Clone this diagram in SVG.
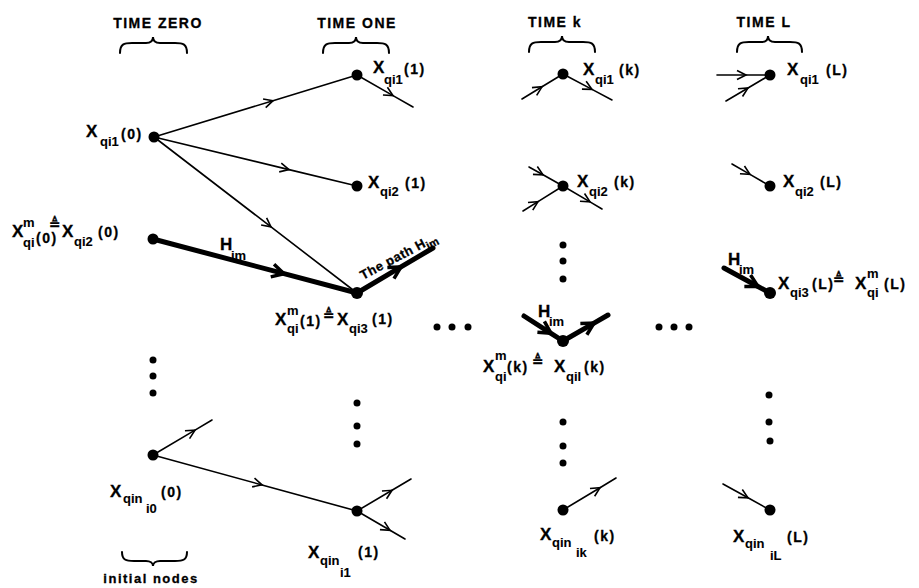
<svg xmlns="http://www.w3.org/2000/svg" width="919" height="588" viewBox="0 0 919 588">
<style>
.t{font-family:"Liberation Sans",Arial,sans-serif;font-weight:bold;fill:#000;stroke:#000;stroke-width:0.3}
.h{font-size:14px;letter-spacing:1.5px}
.X{font-size:17px}
.s{font-size:13px;stroke-width:0.1}
.p{font-size:14px;letter-spacing:1.5px}
.eq{font-family:"DejaVu Sans",sans-serif;font-size:14px;font-weight:bold;letter-spacing:0}
.thin{fill:none;stroke:#000;stroke-width:1.6;stroke-linecap:round;marker-mid:url(#a)}
.thick{fill:none;stroke:#000;stroke-width:5;stroke-linecap:round;marker-mid:url(#b)}
.br{fill:none;stroke:#000;stroke-width:2;stroke-linecap:round}
.n{fill:#000}
</style>
<defs>
<marker id="a" markerUnits="userSpaceOnUse" markerWidth="20" markerHeight="20" refX="0" refY="0" orient="auto" overflow="visible"><path d="M-9,-4.5 L0,0 L-9,4.5" fill="none" stroke="#000" stroke-width="1.6"/></marker>
<marker id="b" markerUnits="userSpaceOnUse" markerWidth="30" markerHeight="30" refX="0" refY="0" orient="auto" overflow="visible"><path d="M-12,-6.5 L0,0 L-12,6.5" fill="none" stroke="#000" stroke-width="3.5"/></marker>
</defs>
<rect width="919" height="588" fill="#fff"/>

<g id="headers">
<text class="t h" x="158" y="28" text-anchor="middle">TIME ZERO</text>
<text class="t h" x="357" y="28" text-anchor="middle">TIME ONE</text>
<text class="t h" x="555" y="27" text-anchor="middle">TIME k</text>
<text class="t h" x="764" y="27" text-anchor="middle">TIME L</text>
<path class="br" d="M120,53 C120,44 124,43 132,43 L146,43 C150,43 153,41 153,37 C153,41 156,43 160,43 L175,43 C183,43 187,44 187,53"/>
<path class="br" d="M323,53 C323,44 327,43 335,43 L349,43 C353,43 356,41 356,37 C356,41 359,43 363,43 L377,43 C385,43 389,44 389,53"/>
<path class="br" d="M529,52 C529,43 533,42 541,42 L555,42 C559,42 562,40 562,36 C562,40 565,42 569,42 L583,42 C591,42 595,43 595,52"/>
<path class="br" d="M737,52 C737,43 741,42 749,42 L762,42 C766,42 768,40 768,36 C768,40 771,42 775,42 L790,42 C798,42 802,43 802,52"/>
<path class="br" d="M122,552 C122,560 126,561 134,561 L146,561 C150,561 153,563 153,566 C153,563 156,561 160,561 L175,561 C183,561 187,560 187,552"/>
<text class="t" x="151" y="583" text-anchor="middle" font-size="13" letter-spacing="1.5">initial nodes</text>
</g>

<g id="connectors">
<polyline class="thin" points="154,137 273,100.7 357,75"/>
<polyline class="thin" points="154,137 289,169.6 357,186"/>
<polyline class="thin" points="154,137 271,226.9 357,293"/>
<polyline class="thick" points="153,239 284,273.7 357,293"/>
<polyline class="thick" points="357,293 401,266.9 433,248"/>
<polyline class="thin" points="357,75 393,95.6 413,107"/>
<polyline class="thin" points="522,99 542,86.8 563,74"/>
<polyline class="thin" points="563,74 592,89.4 612,100"/>
<polyline class="thin" points="717,75 746,75 770,75"/>
<polyline class="thin" points="726,101 748,88 770,75"/>
<polyline class="thin" points="529,167 543,174.8 563,186"/>
<polyline class="thin" points="523,211 538,201.6 563,186"/>
<polyline class="thin" points="563,186 590,201.9 602,209"/>
<polyline class="thin" points="732,164 750,174.4 770,186"/>
<polyline class="thick" points="724,268 758,286.5 770,293"/>
<polyline class="thick" points="524,316 551,333.3 563,341"/>
<polyline class="thick" points="563,341 594,323.1 608,315"/>
<polyline class="thin" points="153,455 195,430.1 212,420"/>
<polyline class="thin" points="153,455 262,484.9 357,511"/>
<polyline class="thin" points="357,511 392,490.3 411,479"/>
<polyline class="thin" points="357,511 390,530.3 405,539"/>
<polyline class="thin" points="563,510 600,487.7 616,478"/>
<polyline class="thin" points="723,484 748,497.8 770,510"/>
</g>

<g id="n_qi1_0">
<circle class="n" cx="154" cy="137" r="5.5"/>
<text class="t"><tspan class="X" x="86" y="137">X</tspan><tspan class="s" x="100" y="146">qi1</tspan><tspan class="p" x="121" y="139">(0)</tspan></text>
</g>
<g id="n_qi2_0">
<circle class="n" cx="153" cy="239" r="5.5"/>
<text class="t"><tspan class="X" x="12" y="237">X</tspan><tspan class="s" x="23" y="227">m</tspan><tspan class="s" x="23" y="247">qi</tspan><tspan class="p" x="36" y="243" font-size="12" letter-spacing="0">(0)</tspan><tspan class="eq" x="49" y="229">≜</tspan><tspan class="X" x="62" y="237">X</tspan><tspan class="s" x="74" y="246">qi2</tspan><tspan class="p" x="98" y="237">(0)</tspan></text>
</g>
<g id="n_qi1_1">
<circle class="n" cx="357" cy="75" r="5.5"/>
<text class="t"><tspan class="X" x="373" y="73">X</tspan><tspan class="s" x="384" y="84">qi1</tspan><tspan class="p" x="404" y="74">(1)</tspan></text>
</g>
<g id="n_qi2_1">
<circle class="n" cx="357" cy="186" r="5.5"/>
<text class="t"><tspan class="X" x="368" y="188">X</tspan><tspan class="s" x="380" y="196">qi2</tspan><tspan class="p" x="405" y="188">(1)</tspan></text>
</g>
<g id="n_qi3_1">
<circle class="n" cx="357" cy="293" r="6"/>
<text class="t"><tspan class="X" x="275" y="325">X</tspan><tspan class="s" x="287" y="315">m</tspan><tspan class="s" x="287" y="333">qi</tspan><tspan class="p" x="300" y="326" letter-spacing="0.5">(1)</tspan><tspan class="eq" x="323" y="320">≜</tspan><tspan class="X" x="337" y="325">X</tspan><tspan class="s" x="349" y="333">qi3</tspan><tspan class="p" x="372" y="324">(1)</tspan></text>
<text class="t"><tspan class="X" font-size="16" x="220" y="250">H</tspan><tspan class="s" x="231" y="260">im</tspan></text>
<text class="t" transform="translate(363,280) rotate(-28)"><tspan font-size="13" letter-spacing="0.5">The path H</tspan><tspan font-size="11" dy="4">im</tspan></text>
</g>
<g id="n_qi1_k">
<circle class="n" cx="563" cy="74" r="5.5"/>
<text class="t"><tspan class="X" x="583" y="75">X</tspan><tspan class="s" x="595" y="84">qi1</tspan><tspan class="p" x="619" y="75">(k)</tspan></text>
</g>
<g id="n_qi2_k">
<circle class="n" cx="563" cy="186" r="5.5"/>
<text class="t"><tspan class="X" x="577" y="187">X</tspan><tspan class="s" x="589" y="196">qi2</tspan><tspan class="p" x="614" y="187">(k)</tspan></text>
</g>
<g id="n_qil_k">
<circle class="n" cx="563" cy="341" r="6"/>
<text class="t"><tspan class="X" font-size="16" x="538" y="317">H</tspan><tspan class="s" x="549" y="326">im</tspan></text>
<text class="t"><tspan class="X" x="483" y="372">X</tspan><tspan class="s" x="495" y="360">m</tspan><tspan class="s" x="495" y="381">qi</tspan><tspan class="p" x="507" y="372" letter-spacing="0.5">(k)</tspan><tspan class="eq" x="532" y="366">≜</tspan><tspan class="X" x="554" y="372">X</tspan><tspan class="s" x="566" y="381">qil</tspan><tspan class="p" x="584" y="372">(k)</tspan></text>
</g>
<g id="n_qi1_L">
<circle class="n" cx="770" cy="75" r="5.5"/>
<text class="t"><tspan class="X" x="787" y="75">X</tspan><tspan class="s" x="800" y="84">qi1</tspan><tspan class="p" x="826" y="75">(L)</tspan></text>
</g>
<g id="n_qi2_L">
<circle class="n" cx="770" cy="186" r="5.5"/>
<text class="t"><tspan class="X" x="783" y="187">X</tspan><tspan class="s" x="795" y="196">qi2</tspan><tspan class="p" x="820" y="187">(L)</tspan></text>
</g>
<g id="n_qi3_L">
<circle class="n" cx="770" cy="293" r="6"/>
<text class="t"><tspan class="X" font-size="16" x="728" y="265">H</tspan><tspan class="s" x="739" y="274">im</tspan></text>
<text class="t"><tspan class="X" x="778" y="289">X</tspan><tspan class="s" x="790" y="297">qi3</tspan><tspan class="p" x="812" y="289" letter-spacing="0">(L)</tspan><tspan class="eq" x="833" y="284">≜</tspan><tspan class="X" x="855" y="289">X</tspan><tspan class="s" x="867" y="278">m</tspan><tspan class="s" x="867" y="297">qi</tspan><tspan class="p" x="884" y="289" letter-spacing="3">(L)</tspan></text>
</g>
<g id="n_qin_0">
<circle class="n" cx="153" cy="455" r="5.5"/>
<text class="t"><tspan class="X" x="110" y="497">X</tspan><tspan class="s" x="123" y="503">qin</tspan><tspan class="s" x="146" y="513">i0</tspan><tspan class="p" x="161" y="497">(0)</tspan></text>
</g>
<g id="n_qin_1">
<circle class="n" cx="357" cy="511" r="5.5"/>
<text class="t"><tspan class="X" x="308" y="558">X</tspan><tspan class="s" x="320" y="565">qin</tspan><tspan class="s" x="340" y="577">i1</tspan><tspan class="p" x="358" y="557">(1)</tspan></text>
</g>
<g id="n_qin_k">
<circle class="n" cx="563" cy="510" r="5.5"/>
<text class="t"><tspan class="X" x="540" y="540">X</tspan><tspan class="s" x="552" y="547">qin</tspan><tspan class="s" x="576" y="557">ik</tspan><tspan class="p" x="594" y="541">(k)</tspan></text>
</g>
<g id="n_qin_L">
<circle class="n" cx="770" cy="510" r="5.5"/>
<text class="t"><tspan class="X" x="733" y="542">X</tspan><tspan class="s" x="745" y="548">qin</tspan><tspan class="s" x="770" y="560">iL</tspan><tspan class="p" x="787" y="542">(L)</tspan></text>
</g>

<g id="ellipses" class="n">
<circle cx="153" cy="360" r="3.5"/><circle cx="153" cy="376" r="3.5"/><circle cx="153" cy="393" r="3.5"/>
<circle cx="357" cy="403" r="3.5"/><circle cx="357" cy="426" r="3.5"/><circle cx="357" cy="444" r="3.5"/>
<circle cx="563" cy="245" r="3.5"/><circle cx="563" cy="261" r="3.5"/><circle cx="563" cy="279" r="3.5"/>
<circle cx="563" cy="422" r="3.5"/><circle cx="563" cy="446" r="3.5"/><circle cx="563" cy="463" r="3.5"/>
<circle cx="769" cy="395" r="3.5"/><circle cx="769" cy="422" r="3.5"/><circle cx="770" cy="441" r="3.5"/>
<circle cx="437" cy="327" r="3.5"/><circle cx="452" cy="327" r="3.5"/><circle cx="468" cy="327" r="3.5"/>
<circle cx="659" cy="327" r="3.5"/><circle cx="674" cy="327" r="3.5"/><circle cx="689" cy="327" r="3.5"/>
</g>
</svg>
